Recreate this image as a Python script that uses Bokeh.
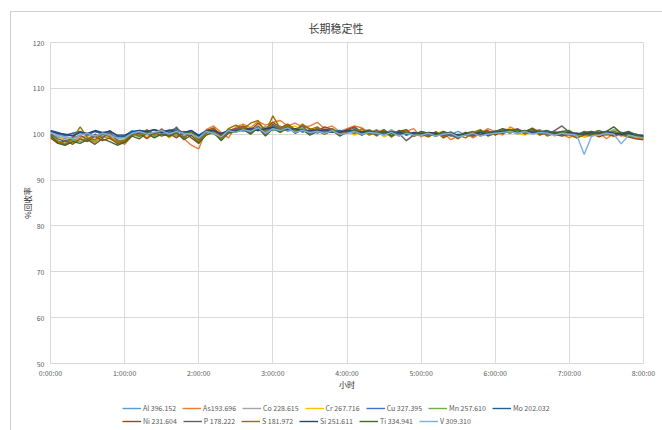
from bokeh.plotting import figure
from bokeh.layouts import column
from bokeh.models import Legend, LegendItem, FixedTicker
from bokeh.embed import file_html
from bokeh.resources import INLINE

# sampling every 6 minutes over 8 hours
minutes = list(range(0, 481, 6))
hours = [m / 60 for m in minutes]

hour_ticks = [0, 1, 2, 3, 4, 5, 6, 7, 8]
hour_labels = ["0:00:00", "1:00:00", "2:00:00", "3:00:00", "4:00:00",
               "5:00:00", "6:00:00", "7:00:00", "8:00:00"]
y_ticks = [50, 60, 70, 80, 90, 100, 110, 120]

names = ["Al 396.152", "As193.696", "Co 228.615", "Cr 267.716", "Cu 327.395",
         "Mn 257.610", "Mo 202.032", "Ni 231.604", "P 178.222", "S 181.972",
         "Si 251.611", "Ti 334.941", "V 309.310"]

colors = ["#5B9BD5", "#ED7D31", "#A5A5A5", "#FFC000", "#4472C4", "#70AD47",
          "#255E91", "#9E480E", "#636363", "#997300", "#264478", "#43682B",
          "#7CAFDD"]

al = [100.0, 99.4, 99.0, 98.6, 99.2, 99.8, 99.4, 100.2, 99.6, 98.8,
      99.6, 100.8, 99.8, 100.2, 101.0, 100.0, 100.4, 99.6, 100.6, 100.2,
      99.4, 100.8, 100.2, 99.8, 100.6, 101.4, 100.6, 101.2, 100.8, 101.6,
      101.0, 101.8, 100.6, 101.2, 100.4, 101.0, 100.2, 100.8, 101.2, 100.4,
      100.8, 100.0, 100.6, 101.0, 100.2, 99.8, 100.6, 100.0, 100.4, 99.6,
      100.2, 99.8, 100.4, 99.6, 100.0, 100.6, 99.8, 99.4, 100.2, 100.6,
      100.0, 100.8, 100.4, 101.0, 100.2, 100.6, 101.0, 100.2, 99.8, 100.4,
      100.0, 99.6, 100.4, 99.8, 100.2, 100.6, 99.8, 100.2, 99.6, 100.0, 99.6]
as_ = [99.4, 98.2, 97.6, 98.4, 99.6, 98.8, 98.2, 99.4, 100.2, 98.6,
       97.8, 99.6, 100.4, 99.2, 100.2, 100.8, 99.4, 100.2, 99.0, 97.6,
       96.8, 101.0, 101.8, 100.4, 99.2, 101.6, 102.2, 101.4, 102.8, 102.0,
       102.6, 103.0, 101.8, 102.4, 101.6, 101.8, 102.6, 101.2, 101.8, 100.6,
       101.2, 101.8, 101.4, 100.4, 101.0, 99.8, 100.8, 99.6, 100.6, 101.2,
       99.4, 100.2, 99.6, 100.4, 98.8, 99.6, 100.4, 99.2, 100.2, 101.2,
       100.6, 99.8, 101.6, 100.8, 100.2, 101.4, 100.4, 99.8, 100.6, 100.0,
       99.2, 100.2, 99.4, 99.8, 100.4, 99.0, 100.2, 99.6, 100.2, 99.2, 99.0]
co = [100.2, 99.6, 98.6, 99.4, 99.0, 100.0, 99.2, 99.8, 100.4, 99.2,
      98.8, 100.2, 99.8, 100.8, 99.6, 100.4, 101.0, 99.8, 100.2, 100.8,
      99.0, 100.0, 101.0, 99.6, 100.4, 100.8, 101.6, 100.4, 101.8, 100.6,
      101.4, 100.8, 102.0, 100.6, 101.4, 100.0, 100.8, 101.4, 100.4, 100.8,
      100.2, 100.8, 99.8, 100.6, 100.4, 100.0, 101.0, 99.8, 100.2, 100.0,
      99.6, 100.4, 100.0, 99.8, 100.6, 99.4, 100.0, 100.2, 99.6, 100.4,
      100.8, 100.2, 100.6, 100.0, 100.8, 100.2, 100.6, 99.8, 100.4, 100.0,
      100.4, 99.8, 100.0, 100.6, 99.6, 100.2, 100.0, 99.8, 100.4, 99.8, 99.4]
cr = [99.8, 98.8, 99.4, 98.2, 99.0, 99.6, 98.6, 99.2, 100.0, 98.4,
      99.0, 99.8, 100.4, 99.6, 100.0, 100.8, 99.2, 100.6, 99.6, 100.0,
      98.4, 99.8, 100.6, 98.8, 101.0, 100.4, 101.0, 101.6, 100.8, 101.4,
      102.0, 100.4, 101.2, 101.8, 100.6, 100.8, 101.2, 100.0, 100.8, 100.2,
      100.6, 99.8, 100.4, 100.0, 100.8, 99.4, 100.2, 100.6, 99.8, 100.4,
      100.0, 99.4, 100.2, 100.6, 99.6, 99.2, 100.4, 99.8, 100.8, 99.6,
      100.2, 100.6, 101.2, 100.2, 99.8, 100.8, 100.2, 100.6, 99.6, 100.2,
      99.6, 100.0, 99.4, 100.2, 99.8, 100.6, 99.4, 100.0, 99.8, 99.4, 99.2]
cu = [100.6, 100.0, 99.6, 99.8, 100.4, 99.8, 100.6, 100.2, 99.8, 99.4,
      99.6, 100.6, 100.2, 100.6, 100.2, 101.0, 100.4, 100.8, 100.0, 100.6,
      99.6, 100.4, 100.8, 100.0, 100.6, 101.0, 100.8, 101.4, 101.0, 101.2,
      101.6, 101.0, 101.2, 100.6, 101.0, 100.6, 101.0, 100.6, 100.8, 100.2,
      100.6, 100.8, 100.2, 100.6, 100.0, 100.4, 100.2, 100.0, 100.4, 99.8,
      100.2, 100.0, 99.8, 100.2, 99.6, 100.0, 99.8, 100.2, 100.4, 100.0,
      100.4, 100.6, 100.8, 100.4, 100.6, 100.8, 100.2, 100.4, 100.0, 100.2,
      100.4, 99.8, 100.2, 100.0, 100.4, 100.0, 100.2, 99.8, 100.0, 99.8, 99.6]
mn = [99.6, 98.6, 98.0, 98.8, 98.4, 99.2, 98.4, 99.6, 99.0, 98.2,
      98.8, 100.0, 99.4, 100.6, 99.4, 100.2, 100.8, 99.8, 99.4, 100.4,
      98.6, 100.6, 100.0, 99.2, 101.2, 100.6, 100.8, 101.4, 101.0, 101.6,
      100.8, 101.4, 101.8, 100.8, 101.2, 100.4, 100.8, 100.2, 101.0, 100.4,
      100.2, 100.8, 100.2, 100.6, 99.6, 100.6, 99.8, 100.4, 100.8, 99.6,
      100.4, 100.0, 99.6, 100.2, 100.0, 99.6, 100.2, 99.8, 100.4, 100.0,
      100.6, 101.0, 100.4, 100.8, 100.4, 101.0, 100.6, 100.0, 100.6, 100.2,
      100.6, 99.8, 100.2, 100.4, 100.8, 100.2, 101.0, 100.4, 100.0, 99.6, 99.2]
mo = [100.8, 100.4, 99.8, 100.2, 100.6, 100.0, 100.6, 100.0, 100.8, 99.6,
      99.4, 100.6, 100.8, 100.4, 101.0, 100.6, 100.8, 101.2, 100.2, 100.8,
      99.8, 100.8, 101.2, 99.8, 100.6, 100.8, 101.2, 100.6, 101.2, 100.8,
      101.8, 100.6, 101.4, 101.0, 100.8, 100.4, 101.0, 100.6, 100.4, 100.8,
      100.4, 101.0, 100.6, 100.2, 100.8, 100.0, 100.6, 100.4, 99.8, 100.2,
      100.4, 99.8, 100.2, 100.0, 100.4, 99.6, 100.0, 100.4, 99.8, 100.2,
      100.6, 100.2, 100.8, 101.0, 100.4, 100.6, 100.4, 100.8, 100.2, 100.4,
      100.2, 100.0, 100.4, 99.8, 100.2, 100.4, 100.0, 100.4, 100.2, 99.8, 99.8]
ni = [99.2, 98.0, 98.6, 97.8, 99.0, 98.4, 99.6, 98.6, 99.2, 98.0,
      98.2, 99.8, 100.2, 99.0, 100.4, 99.6, 100.2, 99.2, 100.6, 99.2,
      98.0, 100.6, 101.4, 99.6, 100.8, 101.2, 101.8, 100.8, 102.4, 101.0,
      102.6, 101.4, 102.2, 101.0, 101.8, 101.2, 100.8, 101.6, 101.0, 100.2,
      101.0, 101.6, 100.4, 100.8, 99.8, 100.8, 99.4, 100.6, 101.0, 99.6,
      100.0, 99.4, 100.6, 99.2, 100.0, 99.0, 100.2, 99.6, 100.4, 100.8,
      99.8, 100.6, 101.0, 100.2, 100.6, 101.2, 99.8, 100.4, 100.0, 99.6,
      100.0, 99.2, 99.8, 100.2, 99.4, 100.0, 99.6, 100.2, 99.4, 99.0, 98.8]
p_ = [100.0, 99.0, 98.4, 99.2, 99.8, 98.8, 100.0, 99.2, 100.4, 98.6,
      98.4, 100.4, 99.6, 100.6, 100.0, 100.6, 99.8, 101.6, 99.2, 100.6,
      98.8, 100.4, 101.0, 99.0, 100.6, 101.0, 101.4, 100.2, 101.8, 99.8,
      102.2, 101.0, 101.6, 100.8, 101.8, 100.2, 101.4, 100.8, 101.2, 100.0,
      100.8, 101.4, 100.0, 100.6, 99.8, 101.0, 99.6, 100.2, 98.6, 99.8,
      100.4, 100.0, 99.6, 100.4, 99.8, 99.2, 100.2, 100.6, 99.8, 100.6,
      100.2, 101.0, 100.6, 101.2, 100.2, 100.8, 100.4, 100.0, 100.8, 101.8,
      100.4, 99.8, 100.6, 100.0, 100.8, 100.2, 100.6, 100.0, 100.4, 100.0, 99.4]
s_ = [99.4, 98.4, 97.8, 99.0, 101.6, 99.2, 98.8, 100.0, 99.4, 98.2,
      98.6, 100.2, 99.6, 101.0, 99.8, 101.2, 99.4, 100.4, 99.0, 100.8,
      98.4, 100.2, 101.2, 98.8, 101.2, 102.0, 101.2, 102.4, 103.0, 100.4,
      104.0, 101.2, 102.0, 100.8, 102.2, 101.0, 101.6, 100.4, 101.2, 99.8,
      100.8, 100.2, 101.2, 99.8, 100.4, 101.0, 99.4, 100.8, 100.2, 99.8,
      100.2, 99.6, 100.4, 99.4, 100.2, 99.8, 99.2, 100.4, 101.0, 99.6,
      100.2, 100.8, 100.2, 101.0, 100.0, 100.6, 100.8, 99.6, 100.2, 100.6,
      99.8, 99.2, 100.0, 99.6, 100.4, 99.8, 100.6, 99.8, 99.4, 99.6, 99.0]
si = [100.6, 100.2, 100.0, 99.6, 100.4, 100.2, 100.8, 100.4, 100.6, 99.8,
      99.8, 100.4, 100.8, 100.6, 101.0, 100.4, 100.8, 100.6, 100.4, 100.8,
      99.6, 100.6, 100.8, 100.2, 100.8, 100.6, 101.0, 101.2, 100.8, 101.2,
      101.4, 100.8, 101.0, 101.2, 100.6, 100.8, 100.6, 101.0, 100.6, 100.4,
      100.8, 100.6, 100.4, 100.8, 100.2, 100.6, 100.2, 100.4, 100.0, 100.4,
      100.0, 100.4, 100.2, 99.8, 100.2, 99.8, 100.2, 100.0, 100.4, 99.8,
      100.4, 100.6, 100.8, 100.4, 100.8, 100.4, 100.6, 100.2, 100.4, 100.0,
      100.4, 100.2, 100.0, 100.4, 100.2, 100.6, 100.2, 100.0, 100.2, 99.8, 99.6]
ti = [99.8, 98.0, 97.6, 98.4, 98.0, 98.8, 97.8, 99.0, 98.4, 97.6,
      98.2, 99.6, 99.0, 100.2, 99.2, 100.0, 99.6, 100.4, 98.8, 99.8,
      98.0, 99.8, 100.4, 98.6, 100.2, 100.6, 101.0, 100.0, 101.4, 99.6,
      101.2, 100.4, 101.6, 100.2, 101.0, 99.8, 100.6, 100.0, 100.8, 99.6,
      100.4, 100.8, 99.8, 100.8, 100.2, 100.6, 99.6, 100.8, 100.4, 99.8,
      100.6, 100.2, 99.8, 100.6, 100.0, 99.6, 100.4, 100.0, 100.8, 100.2,
      100.6, 101.2, 100.8, 101.0, 100.6, 101.2, 100.4, 100.8, 100.2, 100.6,
      100.8, 99.8, 100.4, 100.6, 100.0, 100.6, 101.6, 100.2, 100.6, 99.8, 99.4]
v = [100.4, 99.8, 99.4, 99.0, 99.8, 100.2, 99.6, 100.2, 99.8, 99.2,
     99.2, 100.2, 100.6, 100.0, 100.4, 100.8, 100.0, 100.6, 100.2, 100.0,
     99.2, 100.6, 100.2, 99.4, 100.8, 100.4, 101.0, 100.6, 101.4, 100.2,
     101.2, 100.8, 101.4, 100.4, 100.8, 100.4, 100.6, 100.2, 100.8, 100.0,
     100.2, 100.6, 100.0, 100.4, 100.2, 99.8, 100.4, 99.6, 100.2, 99.8,
     99.8, 100.2, 99.6, 100.0, 100.2, 99.4, 99.8, 100.2, 99.6, 100.0,
     100.2, 100.4, 100.6, 100.2, 100.6, 100.0, 100.4, 100.2, 99.8, 100.2,
     100.0, 99.8, 95.6, 99.6, 99.8, 100.2, 100.0, 97.9, 99.8, 99.4, 99.2]

series = [al, as_, co, cr, cu, mn, mo, ni, p_, s_, si, ti, v]
for ys in series:
    assert len(ys) == len(hours)

FONT = "Noto Sans CJK SC"
GRID = "#D9D9D9"
TEXT = "#595959"

p = figure(width=651, height=390, output_backend="svg", toolbar_location=None,
           x_range=(0, 8), y_range=(50, 120),
           min_border_left=39, min_border_right=19,
           min_border_top=30, min_border_bottom=39,
           title="长期稳定性")

p.title.align = "left"
p.title.offset = 258
p.title.vertical_align = "top"
p.title.text_font = FONT
p.title.text_font_size = "11px"
p.title.text_font_style = "normal"
p.title.text_color = "#404040"
p.title.standoff = 9

p.outline_line_color = GRID
p.outline_line_width = 1
p.background_fill_color = "white"
p.border_fill_color = "white"

p.xaxis.ticker = FixedTicker(ticks=hour_ticks)
p.xaxis.major_label_overrides = {t: lab for t, lab in zip(hour_ticks, hour_labels)}
p.yaxis.ticker = FixedTicker(ticks=y_ticks)

for ax in (p.xaxis[0], p.yaxis[0]):
    ax.axis_line_color = None
    ax.major_tick_line_color = None
    ax.minor_tick_line_color = None
    ax.major_tick_out = 0
    ax.major_tick_in = 0
    ax.minor_tick_out = 0
    ax.minor_tick_in = 0
    ax.major_label_text_font = FONT
    ax.major_label_text_font_size = "7px"
    ax.major_label_text_color = TEXT
    ax.axis_label_text_font = FONT
    ax.axis_label_text_font_size = "8px"
    ax.axis_label_text_font_style = "normal"
    ax.axis_label_text_color = "#262626"

p.xaxis.axis_label = "小时"
p.xaxis.major_label_standoff = 4
p.xaxis.axis_label_standoff = -2
p.yaxis.axis_label = "%回收率"
p.yaxis.major_label_standoff = 6
p.yaxis.axis_label_standoff = -3

p.xgrid.grid_line_color = GRID
p.ygrid.grid_line_color = GRID

for col, ys in zip(colors, series):
    p.line(hours, ys, line_color=col, line_width=1.4)

# legend strip under the chart; its swatch lines sit outside the visible range
leg = figure(width=651, height=28, output_backend="svg", toolbar_location=None,
             x_range=(0, 1), y_range=(0, 1), min_border=0)
leg.axis.visible = False
leg.grid.visible = False
leg.outline_line_color = None
leg.border_fill_color = "white"

items = []
for name, col in zip(names, colors):
    r = leg.line([5, 6], [5, 6], line_color=col, line_width=1.4)
    items.append(LegendItem(label=name, renderers=[r]))


def make_legend(its, loc):
    return Legend(items=its, location=loc, orientation="horizontal",
                  label_text_font=FONT, label_text_font_size="7px",
                  label_text_color=TEXT, glyph_width=19, glyph_height=8,
                  label_standoff=2, spacing=6, padding=0, margin=0,
                  border_line_color=None, background_fill_alpha=0,
                  label_height=8)


leg.add_layout(make_legend(items[:7], (72, 17)))
leg.add_layout(make_legend(items[7:], (72, 4)))

page = column(p, leg, spacing=0)
# chart-area frame: left and top edges of the surrounding box
page.styles = {"margin-left": "10px", "margin-top": "11px",
               "border-left": "1px solid #CFCFCF", "border-top": "1px solid #CFCFCF"}

open("out.html", "w").write(file_html(page, INLINE))
